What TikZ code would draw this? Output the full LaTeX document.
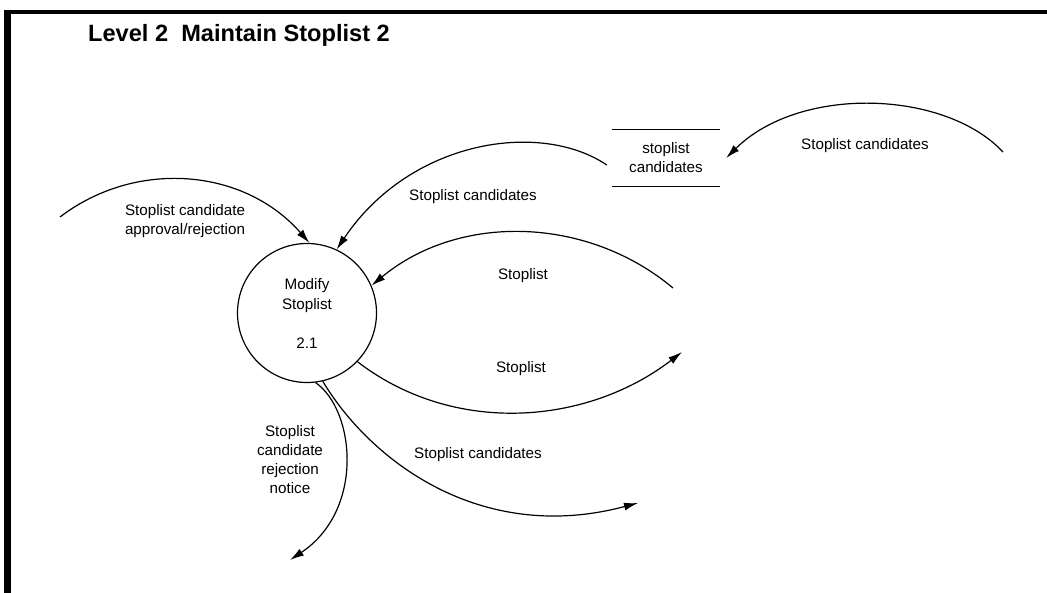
\documentclass[tikz,border=0pt]{standalone}
\usepackage{fontspec}
\setmainfont{Liberation Sans}
\usetikzlibrary{arrows.meta}
\begin{document}
\begin{tikzpicture}[x=1pt,y=-1pt,
  flow/.style={line width=1.2pt, -{Latex[length=14pt,width=8pt]}},
  lbl/.style={font=\fontsize{15.2}{19}\selectfont, align=center, inner sep=0pt},
  proc/.style={circle, draw, line width=1.2pt, minimum size=139pt, inner sep=0pt,
    font=\fontsize{15.2}{20}\selectfont, align=center},
  storebox/.style={minimum width=108pt, minimum height=56pt, inner sep=0pt,
    font=\fontsize{15.2}{19}\selectfont, align=center},
  title/.style={font=\fontsize{23.6}{27}\selectfont\bfseries, anchor=west, inner sep=0pt}]
\useasboundingbox (0,0) rectangle (1047,593);
% frame
\fill (4,10) rectangle (1047,14.5);
\fill (4,10) rectangle (11,593);
% title
\node[title] (ttl) at (88,35) {Level 2\ \ Maintain Stoplist 2};
% process
\node[proc] (p) at (307,313) {Modify\\Stoplist\\[19pt]2.1};
% data store
\node[storebox] (store) at (666,158) {stoplist\\candidates};
\draw[line width=1.2pt] (store.north west) -- (store.north east);
\draw[line width=1.2pt] (store.south west) -- (store.south east);
% free ends
\coordinate (srcR) at (1003,152);
\coordinate (srcL) at (60,217);
\coordinate (stIn) at (673,288);
\coordinate (stOut) at (682,352);
\coordinate (candOut) at (638,503);
\coordinate (rejOut) at (290,560);
% flows
\draw[flow] (srcR) .. controls (945,90) and (800,85) .. ([xshift=6pt]store.east);
\draw[flow] ([shift={(-5,7)}]store.west) .. controls (540,120) and (410,140) .. (p.65);
\draw[flow] (srcL) .. controls (136,159) and (244,168) .. (p.88);
\draw[flow] (stIn) .. controls (587,216) and (459,213) .. (p.23);
\draw[flow] (p.-44) .. controls (454,436) and (587,425) .. (stOut);
\draw[flow] (p.-77) .. controls (370,460) and (480,545) .. (candOut);
\draw[flow] (p.-83) .. controls (355,410) and (365,510) .. (rejOut);
% labels
\node[lbl] (l1) at (865,146) {Stoplist candidates};
\node[lbl] (l2) at (473,197) {Stoplist candidates};
\node[lbl] (l3) at (185,221) {Stoplist candidate\\approval/rejection};
\node[lbl] (l4) at (523,276) {Stoplist};
\node[lbl] (l5) at (521,369) {Stoplist};
\node[lbl] (l6) at (478,455) {Stoplist candidates};
\node[lbl] (l7) at (290,460) {Stoplist\\candidate\\rejection\\notice};
\end{tikzpicture}
\end{document}
